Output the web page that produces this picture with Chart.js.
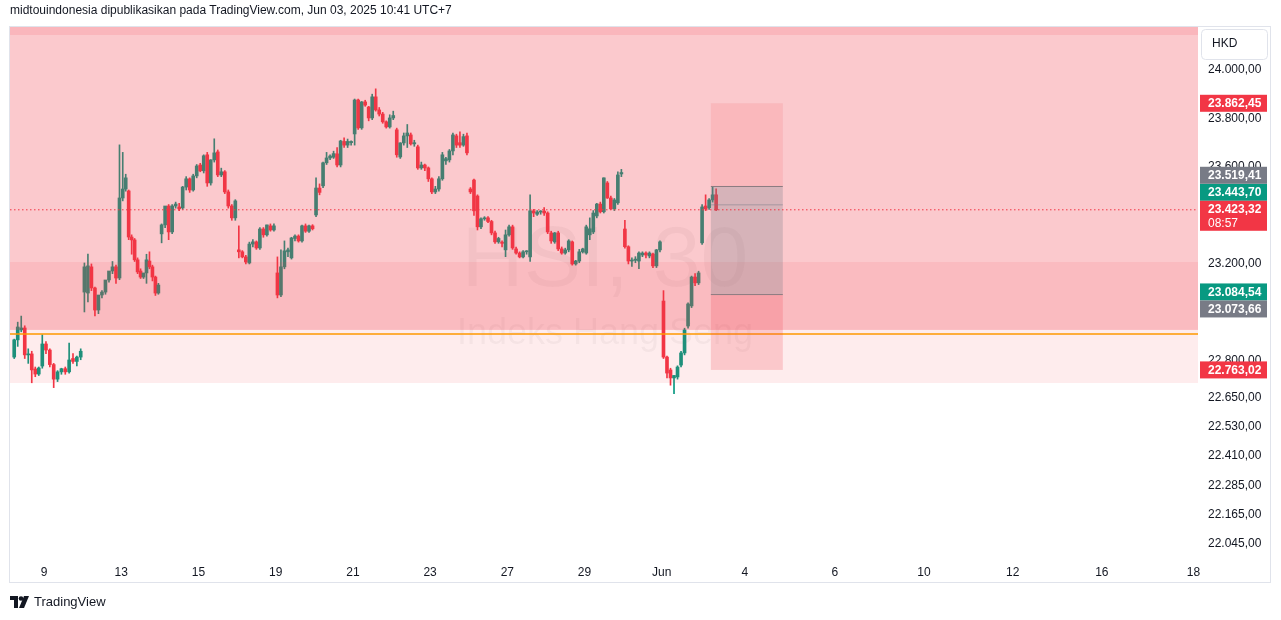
<!DOCTYPE html>
<html><head><meta charset="utf-8">
<script src="https://cdn.jsdelivr.net/npm/chart.js@4.4.1/dist/chart.umd.min.js"></script>
<style>
html,body{margin:0;padding:0;background:#fff;width:1281px;height:620px;overflow:hidden;font-family:"Liberation Sans",Arial,sans-serif}
#wrap{position:absolute;left:0;top:0;width:1281px;height:620px}
#hdr{position:absolute;left:10px;top:3px;font-size:12px;color:#131722}
#ftr{position:absolute;left:10px;top:594px;font-size:13px;color:#131722;display:flex;align-items:center;gap:4px}
</style></head><body>
<div id="wrap"><canvas id="c" width="1281" height="620"></canvas></div>
<div id="hdr">midtouindonesia dipublikasikan pada TradingView.com, Jun 03, 2025 10:41 UTC+7</div>
<div id="ftr"><svg width="20" height="12" viewBox="0 0 20 12"><path d="M0 0h8v12H4V4H0z" fill="#131722"/><circle cx="11" cy="2.5" r="2.3" fill="#131722"/><path d="M14 0h5l-5 12h-5z" fill="#131722"/></svg><span>TradingView</span></div>
<script>
// ---- DATA ----
const dayLabels = ["8","9","12","13","14","15","16","19","20","21","22","23","26","27","28","29","30","Jun","3"];
const barsPerDay = [9,10,11,13,11,11,11,11,11,11,11,11,11,11,11,11,11,11,5];
const firstSlot = [2,0,0,0,0,0,0,0,0,0,0,0,0,0,0,0,0,0,0];
const ohlc = [
// May 8
[22816,22890,22810,22887],[22887,22960,22860,22940],[22928,22985,22920,22936],[22936,22945,22810,22825],[22825,22850,22790,22829],[22829,22840,22710,22763],[22767,22775,22735,22746],[22746,22775,22740,22771],[22779,22908,22770,22870],
// May 9
[22870,22880,22830,22845],[22845,22850,22775,22785],[22785,22790,22690,22725],[22725,22760,22715,22755],[22755,22770,22745,22768],[22768,22775,22745,22755],[22755,22874,22750,22804],[22810,22830,22790,22798],[22798,22820,22780,22816],[22816,22850,22805,22840],
// May 12
[23084,23204,23002,23188],[23080,23241,23043,23192],[23188,23200,23090,23101],[23101,23105,22986,23010],[23010,23030,22995,23072],[23072,23090,23060,23084],[23084,23100,23075,23134],[23134,23165,23125,23171],[23171,23210,23160,23188],[23188,23195,23120,23142],[23142,23691,23135,23472],
// May 13
[23472,23660,23460,23509],[23509,23570,23500,23555],[23501,23505,23300,23311],[23311,23320,23240,23299],[23299,23305,23210,23217],[23217,23225,23160,23167],[23171,23180,23140,23146],[23146,23160,23140,23163],[23163,23240,23120,23217],[23212,23250,23180,23188],[23188,23195,23130,23146],[23146,23150,23070,23080],[23080,23120,23075,23113],
// May 14
[23324,23365,23287,23361],[23361,23410,23350,23439],[23439,23445,23300,23332],[23332,23445,23325,23439],[23439,23455,23430,23447],[23435,23450,23420,23427],[23431,23520,23425,23517],[23517,23560,23505,23551],[23551,23555,23495,23505],[23505,23570,23500,23563],[23563,23610,23555,23604],
// May 15
[23608,23615,23580,23584],[23584,23650,23575,23646],[23650,23660,23520,23534],[23534,23630,23525,23629],[23629,23716,23620,23658],[23662,23670,23560,23567],[23567,23595,23560,23580],[23580,23585,23490,23497],[23497,23505,23430,23439],[23439,23445,23380,23390],[23390,23465,23380,23460],
// May 16
[23258,23357,23225,23250],[23250,23255,23225,23229],[23229,23235,23200,23208],[23204,23290,23200,23282],[23282,23300,23270,23291],[23291,23295,23260,23266],[23266,23350,23260,23344],[23344,23350,23310,23320],[23320,23360,23315,23361],[23357,23365,23335,23340],[23340,23365,23335,23357],
// May 19
[23163,23229,23060,23072],[23072,23258,23065,23188],[23188,23295,23180,23254],[23250,23265,23230,23258],[23225,23310,23220,23307],[23305,23320,23295,23315],[23315,23320,23290,23295],[23295,23360,23290,23357],[23357,23365,23330,23335],[23335,23360,23330,23357],[23357,23362,23340,23345],
// May 20
[23402,23555,23395,23513],[23513,23530,23485,23495],[23522,23620,23515,23617],[23617,23660,23610,23637],[23637,23650,23630,23645],[23640,23665,23635,23655],[23654,23680,23600,23608],[23608,23710,23600,23707],[23705,23720,23680,23690],[23690,23715,23680,23705],[23700,23708,23690,23705],
// May 21
[23736,23880,23690,23876],[23876,23880,23755,23761],[23761,23870,23755,23868],[23868,23875,23850,23855],[23847,23850,23790,23802],[23802,23900,23795,23889],[23889,23922,23830,23835],[23835,23845,23810,23818],[23818,23825,23780,23786],[23786,23790,23760,23765],[23765,23815,23760,23802],
// May 22
[23802,23830,23795,23812],[23753,23760,23640,23650],[23641,23700,23635,23699],[23699,23740,23690,23728],[23728,23775,23680,23740],[23732,23740,23690,23695],[23695,23710,23685,23700],[23683,23690,23590,23596],[23596,23620,23590,23608],[23608,23612,23585,23596],[23596,23600,23540,23551],
// May 23
[23551,23555,23490,23497],[23497,23520,23490,23509],[23509,23560,23500,23551],[23551,23660,23545,23650],[23625,23640,23610,23634],[23629,23672,23620,23666],[23666,23740,23650,23732],[23728,23735,23680,23690],[23700,23745,23680,23690],[23690,23735,23685,23725],[23728,23740,23650,23658],
// May 26
[23509,23515,23490,23497],[23546,23550,23400,23419],[23480,23485,23340,23353],[23353,23390,23345,23386],[23386,23395,23380,23390],[23390,23395,23370,23375],[23375,23380,23320,23328],[23328,23335,23285,23291],[23291,23310,23285,23305],[23290,23295,23270,23285],[23258,23340,23230,23320],
// May 27
[23320,23360,23315,23353],[23353,23360,23260,23266],[23262,23270,23240,23245],[23245,23250,23225,23229],[23229,23255,23225,23250],[23250,23255,23240,23252],[23229,23485,23210,23419],[23419,23425,23395,23410],[23405,23420,23400,23414],[23414,23420,23405,23418],[23418,23432,23400,23410],
// May 28
[23410,23415,23325,23332],[23328,23335,23285,23295],[23291,23330,23285,23328],[23328,23335,23255,23262],[23262,23270,23240,23245],[23245,23265,23240,23258],[23258,23300,23250,23295],[23291,23295,23195,23200],[23200,23215,23195,23212],[23212,23260,23205,23250],[23250,23265,23245,23262],
// May 29
[23245,23360,23240,23353],[23320,23390,23300,23345],[23332,23420,23325,23410],[23398,23450,23390,23447],[23447,23455,23410,23415],[23415,23555,23410,23555],[23534,23540,23470,23472],[23472,23480,23425,23427],[23427,23470,23420,23464],[23452,23580,23445,23567],[23571,23590,23560,23577],
// May 30
[23344,23380,23265,23271],[23271,23275,23200,23212],[23212,23225,23190,23215],[23215,23230,23205,23220],[23212,23250,23180,23245],[23237,23250,23230,23245],[23245,23250,23225,23237],[23233,23250,23225,23245],[23241,23245,23185,23192],[23192,23260,23185,23258],[23258,23295,23250,23291],
// Jun 2
[23047,23090,22810,22816],[22816,22820,22730,22750],[22763,22770,22700,22730],[22730,22740,22665,22740],[22734,22780,22725,22775],[22783,22840,22775,22833],[22833,22935,22825,22928],[22944,23040,22935,23035],[23027,23150,23020,23146],[23146,23160,23110,23122],[23122,23170,23115,23163],
// Jun 3
[23287,23445,23280,23435],[23439,23485,23420,23427],[23431,23470,23425,23464],[23464,23520,23455,23485],[23485,23510,23420,23423]
];
const xTickPos = [11,33,55,77,99,121,143,165,187,210.7,236.3,261.7,287,312.4,338.5];
const xTickText = ["9","13","15","19","21","23","27","29","Jun","4","6","10","12","16","18"];
const yTicks = [24000,23800,23600,23200,22800,22650,22530,22410,22285,22165,22045];
const currentPrice = 23423.32;
const zoneMain = [24144,22928];
const zoneTop = [24177,24144];
const zoneLow = [23208,22709];
const orangeLevel = 22911;
const posBox = {x0:201,x1:221.5,top:23862.45,gray:23519.41,entry:23443.70,target:23073.66,bottom:22763.02};
const tags = [
 {v:23862.45,t:"23.862,45",bg:"#f23645"},
 {v:23519.41,t:"23.519,41",bg:"#787b86"},
 {v:23443.70,t:"23.443,70",bg:"#089981"},
 {v:23084.54,t:"23.084,54",bg:"#089981"},
 {v:23073.66,t:"23.073,66",bg:"#787b86"},
 {v:22763.02,t:"22.763,02",bg:"#f23645"}
];

// ---- build ----
const wick=[], body=[], cols=[];
let k=0;
barsPerDay.forEach((n,d)=>{
  const last = d===barsPerDay.length-1;
  const w = last?1:(11-firstSlot[d])/n;
  for(let i=0;i<n;i++){
    const [o,h,l,c]=ohlc[k++];
    const x=d*11+firstSlot[d]+(i+0.5)*w;
    wick.push({x,y:[l,h]}); body.push({x,y:[o,c]});
    cols.push(c>=o?"#089981":"#f23645");
  }
});
const fmt=v=>v.toLocaleString('de-DE',{minimumFractionDigits:2,maximumFractionDigits:2});

const overlay={id:'ov',
 beforeDatasetsDraw(ch){
  const {ctx}=ch;
  ctx.save();
  ctx.fillStyle='rgba(19,23,34,0.045)';ctx.textAlign='center';ctx.textBaseline='middle';
  ctx.font='86px "Liberation Sans",Arial';ctx.fillText('HSI, 30',605,262);
  ctx.font='36px "Liberation Sans",Arial';ctx.fillText('Indeks Hang Seng',605,334);
  ctx.restore();
 },
 afterDatasetsDraw(ch){
  const {ctx,chartArea:a,scales:{x,y}}=ch;
  ctx.save();
  const band=(r,col)=>{const t=y.getPixelForValue(r[0]),b=y.getPixelForValue(r[1]);ctx.fillStyle=col;ctx.fillRect(a.left,t,a.right-a.left,b-t);};
  band(zoneTop,'rgba(242,54,69,0.36)');
  band(zoneMain,'rgba(242,54,69,0.27)');
  band(zoneLow,'rgba(242,54,69,0.095)');
  let oy=y.getPixelForValue(orangeLevel);
  ctx.strokeStyle='#ff9800';ctx.lineWidth=1.5;ctx.beginPath();ctx.moveTo(a.left,oy);ctx.lineTo(a.right,oy);ctx.stroke();
  const bx0=x.getPixelForValue(posBox.x0),bx1=x.getPixelForValue(posBox.x1);
  const py=v=>y.getPixelForValue(v);
  ctx.fillStyle='rgba(242,54,69,0.12)';ctx.fillRect(bx0,py(posBox.top),bx1-bx0,py(posBox.gray)-py(posBox.top));
  ctx.fillStyle='rgba(120,123,134,0.28)';ctx.fillRect(bx0,py(posBox.gray),bx1-bx0,py(posBox.target)-py(posBox.gray));
  ctx.fillStyle='rgba(242,54,69,0.2)';ctx.fillRect(bx0,py(posBox.target),bx1-bx0,py(posBox.bottom)-py(posBox.target));
  ctx.strokeStyle='#8a7c80';ctx.lineWidth=1;
  [posBox.gray,posBox.target].forEach(v=>{ctx.beginPath();ctx.moveTo(bx0,py(v));ctx.lineTo(bx1,py(v));ctx.stroke();});
  ctx.strokeStyle='rgba(120,123,134,0.5)';
  ctx.beginPath();ctx.moveTo(bx0,py(posBox.entry));ctx.lineTo(bx1,py(posBox.entry));ctx.stroke();
  const cy=py(currentPrice);
  ctx.strokeStyle='#f23645';ctx.setLineDash([1.5,2.5]);ctx.beginPath();ctx.moveTo(a.left,cy);ctx.lineTo(a.right,cy);ctx.stroke();ctx.setLineDash([]);
  ctx.restore();
 },
 afterDraw(ch){
  const {ctx,scales:{y}}=ch;
  ctx.save();
  ctx.strokeStyle='#e0e3eb';ctx.lineWidth=1;ctx.strokeRect(9.5,26.5,1261,556);
  ctx.beginPath();ctx.roundRect(1201.5,29.5,66,30,4);ctx.stroke();
  ctx.fillStyle='#131722';ctx.font='12px "Liberation Sans",Arial';ctx.textBaseline='middle';ctx.textAlign='left';ctx.fillText('HKD',1212,44);
  const H=17, X=1200, W=67;
  const cy=y.getPixelForValue(currentPrice);
  const curTop=cy-9, curBot=cy+21;
  const above=tags.filter(t=>t.v>currentPrice).sort((p,q)=>p.v-q.v);
  const below=tags.filter(t=>t.v<currentPrice).sort((p,q)=>q.v-p.v);
  const draw=(t,c)=>{ctx.fillStyle=t.bg;ctx.fillRect(X,c-H/2,W,H);ctx.fillStyle='#fff';ctx.font='bold 12px "Liberation Sans",Arial';ctx.fillText(t.t,X+8,c+0.5);};
  let lim=curTop;
  above.forEach(t=>{let c=y.getPixelForValue(t.v);if(c+H/2>lim)c=lim-H/2;draw(t,c);lim=c-H/2;});
  lim=curBot;
  below.forEach(t=>{let c=y.getPixelForValue(t.v);if(c-H/2<lim)c=lim+H/2;draw(t,c);lim=c+H/2;});
  ctx.fillStyle='#f23645';ctx.fillRect(X,curTop,W,30);
  ctx.fillStyle='#fff';ctx.font='bold 12px "Liberation Sans",Arial';ctx.fillText(fmt(currentPrice),X+8,cy);
  ctx.font='12px "Liberation Sans",Arial';ctx.fillText('08:57',X+8,cy+14);
  ctx.restore();
 }};

new Chart(document.getElementById('c'),{
 type:'bar',
 data:{datasets:[
  {data:wick,backgroundColor:cols,barThickness:1,minBarLength:1,order:2},
  {data:body,backgroundColor:cols,barThickness:3,minBarLength:1,order:1}
 ]},
 options:{responsive:false,animation:false,devicePixelRatio:1,
  layout:{padding:{left:10,top:27,right:0,bottom:38}},
  plugins:{legend:{display:false},tooltip:{enabled:false}},
  datasets:{bar:{grouped:false}},
  scales:{
   x:{type:'linear',offset:false,min:1.3,max:339.8,grid:{display:false,tickLength:0},border:{display:false},
      afterBuildTicks:s=>{s.ticks=xTickPos.map(v=>({value:v}));},
      afterFit:s=>{s.height=20;},
      ticks:{autoSkip:false,maxRotation:0,padding:3,color:'#131722',font:{size:12,family:'"Liberation Sans",Arial'},
        callback:(v)=>{const i=xTickPos.indexOf(v);return i>=0?xTickText[i]:'';}}},
   y:{position:'right',min:21971,max:24177,grid:{display:false,tickLength:0},border:{display:false},
      afterBuildTicks:s=>{s.ticks=yTicks.map(v=>({value:v}));},
      afterFit:s=>{s.width=83;},
      ticks:{autoSkip:false,crossAlign:'near',padding:10,color:'#131722',font:{size:12,family:'"Liberation Sans",Arial'},callback:v=>fmt(v)}}
  }},
 plugins:[overlay]
});
</script></body></html>
